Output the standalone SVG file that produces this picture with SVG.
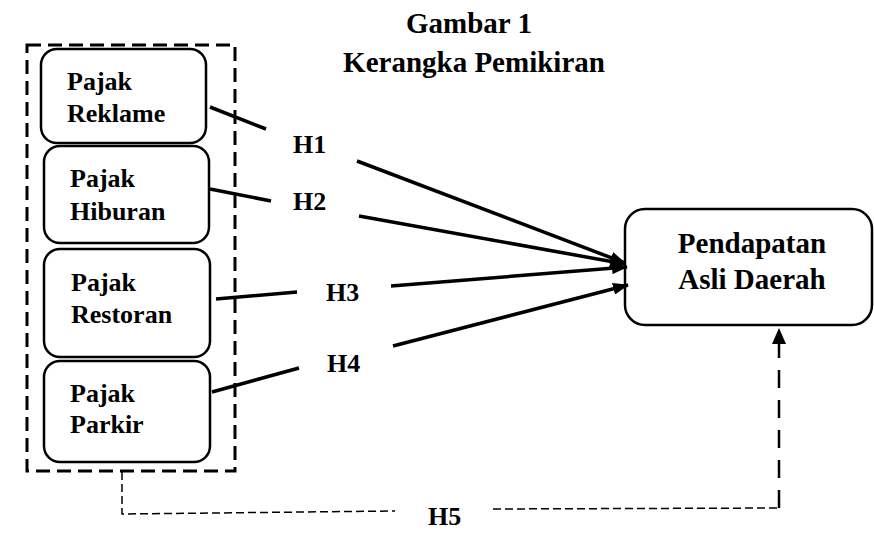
<svg xmlns="http://www.w3.org/2000/svg" width="874" height="547" viewBox="0 0 874 547">
<defs>
<marker id="ah" markerWidth="16" markerHeight="12" refX="15" refY="6" orient="auto" markerUnits="userSpaceOnUse">
<path d="M0,0 L16,6 L0,12 Z" fill="#000"/>
</marker>
<marker id="ah2" markerWidth="16" markerHeight="16" refX="16" refY="8" orient="auto" markerUnits="userSpaceOnUse">
<path d="M0,1 L16,8 L0,15 Z" fill="#000"/>
</marker>
<style>
.box{fill:#fff;stroke:#000;stroke-width:2.5}
.lbl{font-size:26px}
.ttl{font-size:29px}
.ln{stroke:#000;stroke-width:3.5;fill:none}
.dsh{stroke:#000;stroke-width:1.5;fill:none;stroke-dasharray:8 4}
</style>
</defs>
<rect width="874" height="547" fill="#fff"/>
<g font-family="Liberation Serif, Tinos, Times New Roman, DejaVu Serif, serif" font-weight="bold" fill="#000">
<g id="title">
<text class="ttl" x="469" y="33" text-anchor="middle">Gambar 1</text>
<text class="ttl" x="474" y="72" text-anchor="middle">Kerangka Pemikiran</text>
</g>
<g id="group-box">
<rect x="27" y="45" width="208" height="426" fill="none" stroke="#000" stroke-width="3" stroke-dasharray="14 7"/>
</g>
<g id="reklame">
<rect class="box" x="41" y="49" width="165" height="94" rx="16"/>
<text class="lbl" x="67" y="90">Pajak</text>
<text class="lbl" x="67" y="122">Reklame</text>
</g>
<g id="hiburan">
<rect class="box" x="44" y="146" width="165" height="97" rx="16"/>
<text class="lbl" x="70" y="187">Pajak</text>
<text class="lbl" x="70" y="220">Hiburan</text>
</g>
<g id="restoran">
<rect class="box" x="44" y="249" width="166" height="108" rx="16"/>
<text class="lbl" x="71" y="291">Pajak</text>
<text class="lbl" x="71" y="323">Restoran</text>
</g>
<g id="parkir">
<rect class="box" x="44" y="361" width="166" height="101" rx="16"/>
<text class="lbl" x="70" y="402">Pajak</text>
<text class="lbl" x="70" y="433">Parkir</text>
</g>
<g id="pad">
<rect class="box" x="625" y="209" width="247" height="116" rx="20"/>
<text class="ttl" x="752" y="253" text-anchor="middle">Pendapatan</text>
<text class="ttl" x="752" y="289" text-anchor="middle">Asli Daerah</text>
</g>
<g id="connectors">
<line class="ln" x1="210" y1="107" x2="266" y2="129"/>
<line class="ln" x1="357" y1="161" x2="625" y2="263" marker-end="url(#ah)"/>
<line class="ln" x1="210" y1="189" x2="271" y2="201"/>
<line class="ln" x1="359" y1="216" x2="625" y2="264" marker-end="url(#ah)"/>
<line class="ln" x1="216" y1="299" x2="297" y2="292"/>
<line class="ln" x1="391" y1="286" x2="627" y2="267" marker-end="url(#ah)"/>
<line class="ln" x1="212" y1="392" x2="299" y2="368"/>
<line class="ln" x1="393" y1="346" x2="628" y2="285" marker-end="url(#ah)"/>
<polyline class="dsh" points="122,472 122,514 395,511"/>
<polyline class="dsh" points="493,509 779,508"/>
<line x1="779" y1="508" x2="779" y2="328" stroke="#000" stroke-width="2.5" stroke-dasharray="18 12" marker-end="url(#ah2)"/>
</g>
<g id="labels">
<text class="lbl" x="293" y="153">H1</text>
<text class="lbl" x="293" y="210">H2</text>
<text class="lbl" x="326" y="301">H3</text>
<text class="lbl" x="327" y="372">H4</text>
<text class="lbl" x="428" y="525">H5</text>
</g>
</g>
</svg>
